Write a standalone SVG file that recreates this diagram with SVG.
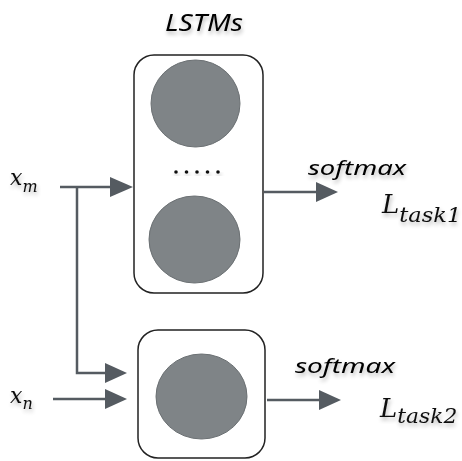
<svg xmlns="http://www.w3.org/2000/svg" width="462" height="461" viewBox="0 0 462 461">
<defs>
<style>
.box{fill:#fff;stroke:#222;stroke-width:1.5}
.cell{fill:#7f8487;stroke:#6b7073;stroke-width:1}
.ln{fill:none;stroke:#555b61;stroke-width:2.5}
.head{fill:#555b61}
.lbl{font-family:"Noto Sans","Open Sans","DejaVu Sans",sans-serif;font-style:italic;font-weight:400;fill:#000}
.math{font-family:"DejaVu Serif","Liberation Serif",serif;font-style:italic;fill:#111}
</style>
<filter id="sh" x="-20%" y="-20%" width="140%" height="160%">
<feGaussianBlur in="SourceAlpha" stdDeviation="2"/>
<feOffset dx="1" dy="3" result="b"/>
<feComponentTransfer><feFuncA type="linear" slope="0.3"/></feComponentTransfer>
<feMerge><feMergeNode/><feMergeNode in="SourceGraphic"/></feMerge>
</filter>
</defs>
<rect width="462" height="461" fill="#fff"/>
<text class="lbl" x="165" y="31" font-size="23" textLength="78" lengthAdjust="spacingAndGlyphs" filter="url(#sh)">LSTMs</text>
<g id="lstm-top">
<rect class="box" x="134" y="55" width="129" height="238" rx="20"/>
<ellipse class="cell" cx="195.5" cy="103.5" rx="44.5" ry="43.5"/>
<g fill="#111" filter="url(#sh)">
<circle cx="176" cy="172" r="1.8"/><circle cx="186.5" cy="172" r="1.8"/><circle cx="197" cy="172" r="1.8"/><circle cx="207.5" cy="172" r="1.8"/><circle cx="218" cy="172" r="1.8"/>
</g>
<ellipse class="cell" cx="194.5" cy="239.5" rx="45.5" ry="43.5"/>
</g>
<g id="lstm-bottom">
<rect class="box" x="138" y="330" width="127" height="128" rx="20"/>
<ellipse class="cell" cx="201.5" cy="396.5" rx="45.5" ry="42.5"/>
</g>
<g id="connectors">
<path class="ln" d="M60 187H112"/>
<polygon class="head" points="110,177 133,187 110,197"/>
<path class="ln" d="M77 187V373H107"/>
<polygon class="head" points="105,363 127,373 105,383"/>
<path class="ln" d="M53 399H107"/>
<polygon class="head" points="105,389 127,399 105,409"/>
<path class="ln" d="M264 192H318"/>
<polygon class="head" points="316,182 338,192 316,202"/>
<path class="ln" d="M267 400H321"/>
<polygon class="head" points="319,390 341,400 319,410"/>
</g>
<g id="labels" filter="url(#sh)">
<text class="math" x="10" y="185" font-size="22">x<tspan font-size="16" dy="7">m</tspan></text>
<text class="math" x="10" y="403" font-size="22">x<tspan font-size="16" dy="6">n</tspan></text>
<text class="lbl" x="308" y="175" font-size="20" textLength="98" lengthAdjust="spacingAndGlyphs">softmax</text>
<text class="lbl" x="295" y="373" font-size="20" textLength="100" lengthAdjust="spacingAndGlyphs">softmax</text>
<text class="math" x="382" y="213" font-size="26">L<tspan font-size="21" dy="9" textLength="62" lengthAdjust="spacingAndGlyphs">task1</tspan></text>
<text class="math" x="380" y="417" font-size="26">L<tspan font-size="21" dy="6" textLength="60" lengthAdjust="spacingAndGlyphs">task2</tspan></text>
</g>
</svg>
